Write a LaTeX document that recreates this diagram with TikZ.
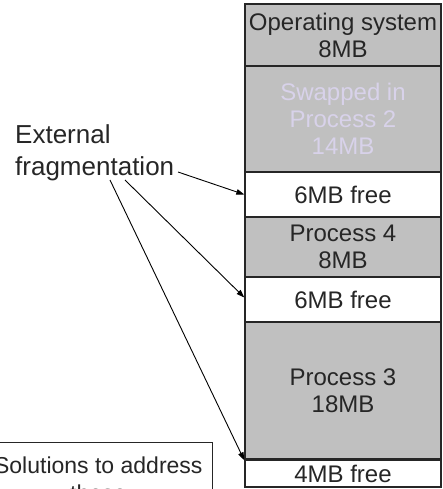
\documentclass[tikz,border=0pt]{standalone}
\usepackage{fontspec}
\setmainfont{Liberation Sans}
\usetikzlibrary{arrows.meta}
\definecolor{memgray}{HTML}{C0C0C0}
\definecolor{ink}{HTML}{262626}
\definecolor{ghost}{HTML}{D8D2EA}
\tikzset{
  block/.style={draw=ink, line width=1.4pt, minimum width=196pt, inner sep=0pt,
    align=center, text=ink, font=\fontsize{24}{27}\selectfont},
  used/.style={block, fill=memgray},
  free/.style={block, fill=white},
  pointer/.style={draw=black, line width=0.9pt, -{Triangle[length=8pt,width=5.5pt]}},
  caption/.style={inner sep=0pt, align=left, text=ink, font=\fontsize{26}{32}\selectfont}
}
\begin{document}
\begin{tikzpicture}[x=1pt,y=-1pt]
  \useasboundingbox (0,0) rectangle (442,489);
  % memory column, top to bottom
  \node[used, minimum height=62pt]  (os)   at (343,35)    {Operating system\\8MB};
  \node[used, minimum height=106pt, text=ghost] (p2) at (343,119) {Swapped in\\Process 2\\14MB};
  \node[free, minimum height=45pt]  (hole1) at (343,194.5) {6MB free};
  \node[used, minimum height=60pt]  (p4)   at (343,247)   {Process 4\\8MB};
  \node[free, minimum height=45pt]  (hole2) at (343,299.5) {6MB free};
  \node[used, minimum height=138pt] (p3)   at (343,391)   {Process 3\\18MB};
  \draw[draw=ink, line width=1.1pt] (p3.south west) ++(0,-2.5) -- ++(196,0);
  \node[free, minimum height=27pt]  (hole3) at (343,473.5) {4MB free};

  % caption and its pointers to the holes
  \node[caption, anchor=north west] (ext) at (15,124.5) {External\\fragmentation};
  \coordinate (s1) at (178,172);
  \coordinate (s2) at (125,180);
  \coordinate (s3) at (110,180);
  \draw[pointer] (s1) -- (hole1.west);
  \draw[pointer] (s2) -- ([yshift=2pt]hole2.west);
  \draw[pointer] (s3) -- ([yshift=-1pt]hole3.north west);

  % question box at the lower left
  \node[draw=ink, line width=1pt, fill=white, anchor=north east, inner xsep=10pt, inner ysep=14pt,
        align=center, text=ink, font=\fontsize{23}{28}\selectfont] (sol) at (213,442)
        {Solutions to address\\these};
\end{tikzpicture}
\end{document}
